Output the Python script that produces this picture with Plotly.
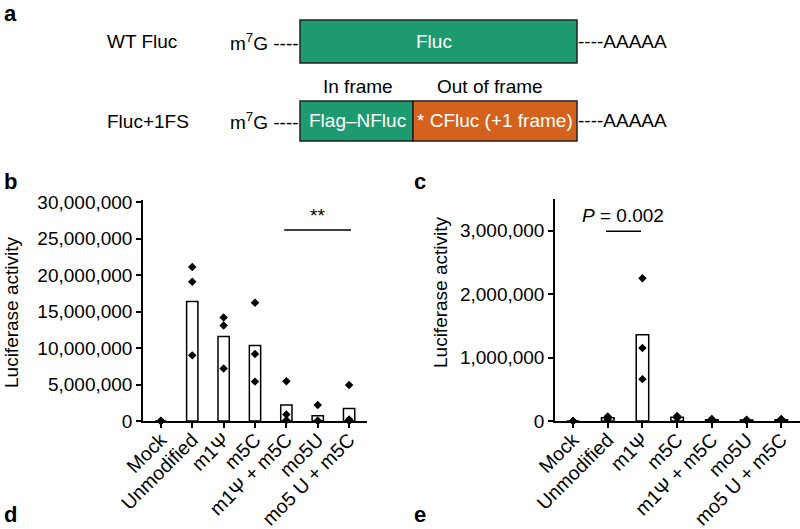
import plotly.graph_objects as go

# ---------------- data ----------------
categories = ["Mock", "Unmodified", "m1Ψ", "m5C", "m1Ψ + m5C", "mo5U", "mo5 U + m5C"]

# panel b (luciferase activity, WT Fluc)
b_bar = [0, 16.4e6, 11.6e6, 10.35e6, 2.2e6, 0.73e6, 1.7e6]
b_pts = [
    [0, 0, 0],
    [21.1e6, 19.1e6, 9.0e6],
    [14.2e6, 13.1e6, 7.2e6],
    [16.2e6, 9.2e6, 5.4e6],
    [5.45e6, 0.9e6, 0.1e6],
    [2.2e6, 0.05e6, 0.0],
    [4.95e6, 0.2e6, 0.0],
]
b_ticks = [0, 5e6, 10e6, 15e6, 20e6, 25e6, 30e6]

# panel c (luciferase activity, Fluc+1FS)
c_bar = [0, 0.05e6, 1.36e6, 0.06e6, 0.02e6, 0.015e6, 0.02e6]
c_pts = [
    [0, 0, 0],
    [0.07e6, 0.06e6, 0.03e6],
    [2.25e6, 1.15e6, 0.66e6],
    [0.08e6, 0.05e6, 0.05e6],
    [0.03e6, 0.02e6, 0.01e6],
    [0.02e6, 0.01e6, 0.01e6],
    [0.03e6, 0.02e6, 0.01e6],
]
c_ticks = [0, 1e6, 2e6, 3e6]

W, H = 800, 529
FONT = "Liberation Sans, Arial, Helvetica, sans-serif"
GREEN = "#1e9a70"
ORANGE = "#d5621c"


def fx(px):
    return px / W


def fy(py):
    return 1 - py / H


fig = go.Figure()
xidx = list(range(len(categories)))

for bars, pts, xa, ya in [(b_bar, b_pts, "x", "y"), (c_bar, c_pts, "x2", "y2")]:
    fig.add_trace(go.Bar(
        x=xidx, y=bars, width=0.36, xaxis=xa, yaxis=ya,
        marker=dict(color="white", line=dict(color="black", width=1.5)),
        showlegend=False, hoverinfo="skip"))
    px_, py_ = [], []
    for i, vals in enumerate(pts):
        for v in vals:
            px_.append(i)
            py_.append(v)
    fig.add_trace(go.Scatter(
        x=px_, y=py_, mode="markers", xaxis=xa, yaxis=ya,
        marker=dict(symbol="diamond", size=6.5, color="black"),
        showlegend=False, hoverinfo="skip", cliponaxis=False))


def fmt(v):
    return f"{int(v):,}"


axis_common = dict(showline=True, linecolor="black", linewidth=1.5, ticks="outside",
                   ticklen=5, tickwidth=1.5, tickcolor="black", showgrid=False,
                   zeroline=False, fixedrange=True, automargin=False)

fig.update_layout(
    width=W, height=H, margin=dict(l=0, r=0, t=0, b=0, autoexpand=False),
    paper_bgcolor="white", plot_bgcolor="white",
    font=dict(family=FONT, color="black", size=19),
    barmode="overlay",
    xaxis=dict(domain=[fx(143), fx(367)], range=[-0.57, 6.57], tickvals=xidx,
               ticktext=categories, tickangle=-45, tickfont=dict(size=19.5),
               ticklabelstandoff=-7, anchor="y", **axis_common),
    yaxis=dict(domain=[fy(421), fy(200)], range=[0, 30.3e6], tickvals=b_ticks,
               ticktext=[fmt(v) for v in b_ticks], tickfont=dict(size=19),
               anchor="x", **axis_common),
    xaxis2=dict(domain=[fx(555), 1.0], range=[-0.52, 6.54], tickvals=xidx,
                ticktext=categories, tickangle=-45, tickfont=dict(size=19.5),
                ticklabelstandoff=-7, anchor="y2", **axis_common),
    yaxis2=dict(domain=[fy(421), fy(199)], range=[0, 3.5e6], tickvals=c_ticks,
                ticktext=[fmt(v) for v in c_ticks], tickfont=dict(size=19),
                anchor="x2", **axis_common),
)

shapes = []
ann = []


def text(x, y, t, size=19, color="black", xanchor="center", yanchor="middle",
         bold=False, angle=0):
    ann.append(dict(x=fx(x), y=fy(y), xref="paper", yref="paper", text=t,
                    showarrow=False, xanchor=xanchor, yanchor=yanchor,
                    textangle=angle,
                    font=dict(size=size, color=color, family=FONT,
                              weight="bold" if bold else "normal")))


# ---- panel letters ----
text(2, 13, "a", size=22, bold=True, xanchor="left")
text(2, 182, "b", size=22, bold=True, xanchor="left")
text(412, 182, "c", size=22, bold=True, xanchor="left")
text(2, 529, "d", size=22, bold=True, xanchor="left", yanchor="bottom")
text(412, 529, "e", size=22, bold=True, xanchor="left", yanchor="bottom")

# ---- panel a: construct diagram ----
def rect(x0, y0, x1, y1, fill):
    shapes.append(dict(type="rect", xref="paper", yref="paper",
                       x0=fx(x0), x1=fx(x1), y0=fy(y1), y1=fy(y0),
                       fillcolor=fill, line=dict(color="#222222", width=1.5)))


rect(300, 20, 577, 63, GREEN)
rect(300, 101, 413, 141, GREEN)
rect(413, 101, 577, 141, ORANGE)

text(105, 42, "WT Fluc", xanchor="left")
text(105, 122, "Fluc+1FS", xanchor="left")
text(301, 42, "m<sup>7</sup>G ----", xanchor="right")
text(301, 121, "m<sup>7</sup>G ----", xanchor="right")
text(576, 42, "----AAAAA", xanchor="left")
text(576, 121, "----AAAAA", xanchor="left")
text(434, 42, "Fluc", color="white")
text(357, 121, "Flag–NFluc", color="white")
text(495, 121, "* CFluc (+1 frame)", color="white")
text(358, 86, "In frame")
text(490, 86, "Out of frame")

# ---- y-axis titles ----
text(11, 312, "Luciferase activity", angle=-90)
text(440, 292, "Luciferase activity", angle=-90)

# ---- significance markers ----
shapes.append(dict(type="line", xref="x", yref="y", x0=3.93, x1=6.06,
                   y0=26.2e6, y1=26.2e6, line=dict(color="black", width=1.5)))
ann.append(dict(x=5.0, y=26.5e6, xref="x", yref="y", text="**", showarrow=False,
                yanchor="bottom", font=dict(size=19, family=FONT)))
shapes.append(dict(type="line", xref="x2", yref="y2", x0=0.95, x1=1.96,
                   y0=2.99e6, y1=2.99e6, line=dict(color="black", width=1.5)))
ann.append(dict(x=1.45, y=3.05e6, xref="x2", yref="y2",
                text="<i>P</i> = 0.002", showarrow=False, yanchor="bottom",
                font=dict(size=19, family=FONT)))

fig.update_layout(shapes=shapes, annotations=ann)
fig.write_html("out.html", config={"displayModeBar": False},
               post_script="document.body.style.margin='0';"
                           "document.body.style.overflow='hidden';")
